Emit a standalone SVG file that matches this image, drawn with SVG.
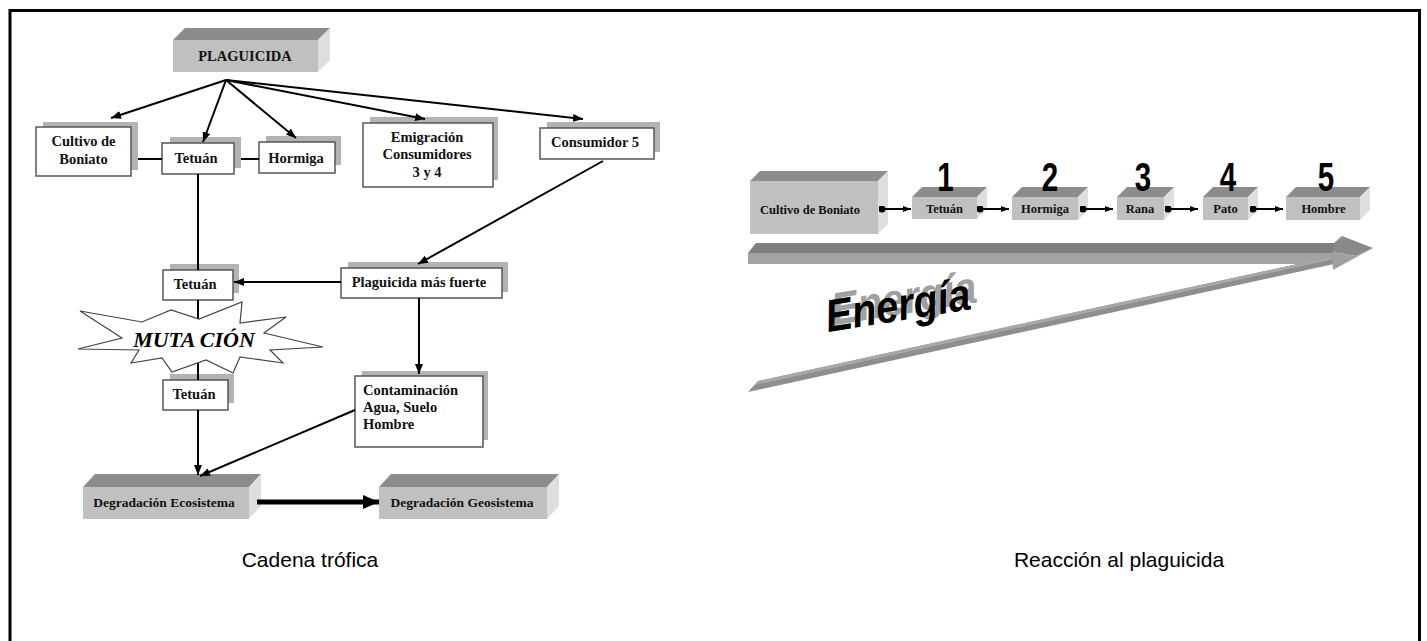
<svg xmlns="http://www.w3.org/2000/svg" width="1427" height="641" viewBox="0 0 1427 641">
<defs>
<style>
.frame{fill:none;stroke:#000;stroke-width:3}
.shadow{fill:#b3b3b3}
.box{fill:#fff;stroke:#555;stroke-width:1.5}
.front{fill:#c0c0c0}
.top{fill:#8c8c8c}
.side{fill:#dedede}
.lbl{font-family:"Liberation Serif","Times New Roman",serif;font-weight:bold;font-size:14.5px;fill:#111}
.lbl3{font-family:"Liberation Serif","Times New Roman",serif;font-weight:bold;font-size:13.5px;fill:#111}
.lblr{font-family:"Liberation Serif","Times New Roman",serif;font-weight:bold;font-size:12.5px;fill:#111}
.num{font-family:"Liberation Sans",Arial,sans-serif;font-weight:bold;font-size:41px;fill:#000}
.cap{font-family:"Liberation Sans",Arial,sans-serif;font-size:21px;fill:#000}
.conn{stroke:#000;stroke-width:2;fill:none}
.en{font-family:"Liberation Sans",Arial,sans-serif;font-weight:bold;font-style:italic;font-size:42px}
</style>
<marker id="arr" viewBox="0 0 10 8" refX="10" refY="4" markerWidth="10" markerHeight="8" markerUnits="userSpaceOnUse" orient="auto"><path d="M0,0 L10,4 L0,8 z" fill="#000"/></marker>
<marker id="arrs" viewBox="0 0 8 6" refX="8" refY="3" markerWidth="8" markerHeight="6" markerUnits="userSpaceOnUse" orient="auto"><path d="M0,0 L8,3 L0,6 z" fill="#000"/></marker>
<marker id="dot" viewBox="0 0 8 8" refX="4" refY="4" markerWidth="7" markerHeight="7" markerUnits="userSpaceOnUse"><circle cx="4" cy="4" r="4" fill="#000"/></marker>
<marker id="arrb" viewBox="0 0 14 14" refX="14" refY="7" markerWidth="16" markerHeight="14" markerUnits="userSpaceOnUse" orient="auto" preserveAspectRatio="none"><path d="M0,0 L14,7 L0,14 z" fill="#000"/></marker>
</defs>

<rect class="frame" x="10" y="10.5" width="1409.5" height="660"/>

<!-- Left panel nodes -->
<g id="plaguicida">
<rect class="front" x="173" y="40" width="145" height="32"/>
<polygon class="top" points="173,40 185,28 330,28 318,40"/>
<polygon class="side" points="318,40 330,28 330,60 318,72"/>
<text class="lbl" x="245" y="61" text-anchor="middle">PLAGUICIDA</text>
</g>
<g id="cultivo">
<rect class="shadow" x="43" y="122" width="95" height="48"/>
<rect class="box" x="36" y="127" width="95" height="49"/>
<text class="lbl" x="83.5" y="146" text-anchor="middle">Cultivo de</text>
<text class="lbl" x="83.5" y="164" text-anchor="middle">Boniato</text>
</g>
<g id="tetuan1">
<rect class="shadow" x="170" y="137" width="71" height="31"/>
<rect class="box" x="162" y="143" width="72" height="31"/>
<text class="lbl" x="196" y="163" text-anchor="middle">Tetuán</text>
</g>
<g id="hormiga">
<rect class="shadow" x="266" y="136" width="75" height="29"/>
<rect class="box" x="259" y="142" width="76" height="31"/>
<text class="lbl" x="296" y="163" text-anchor="middle">Hormiga</text>
</g>
<g id="emigracion">
<rect class="shadow" x="370" y="117" width="128" height="63"/>
<rect class="box" x="363" y="123" width="130" height="64"/>
<text class="lbl" x="427" y="142" text-anchor="middle">Emigración</text>
<text class="lbl" x="427" y="159" text-anchor="middle">Consumidores</text>
<text class="lbl" x="427" y="177" text-anchor="middle">3 y 4</text>
</g>
<g id="consumidor5">
<rect class="shadow" x="547" y="122" width="113" height="30"/>
<rect class="box" x="540" y="128" width="114" height="31"/>
<text class="lbl" x="595" y="147" text-anchor="middle">Consumidor 5</text>
</g>
<g id="plagfuerte">
<rect class="shadow" x="348" y="262" width="160" height="30"/>
<rect class="box" x="341" y="268" width="161" height="30"/>
<text class="lbl" x="419" y="287" text-anchor="middle">Plaguicida más fuerte</text>
</g>
<g id="tetuan2">
<rect class="shadow" x="170" y="264" width="69" height="29"/>
<rect class="box" x="163" y="270" width="70" height="30"/>
<text class="lbl" x="195" y="289" text-anchor="middle">Tetuán</text>
</g>
<g id="tetuan3">
<rect class="shadow" x="170" y="374" width="64" height="29"/>
<rect class="box" x="163" y="380" width="65" height="30"/>
<text class="lbl" x="194" y="399" text-anchor="middle">Tetuán</text>
</g>
<g id="contaminacion">
<rect class="shadow" x="362" y="371" width="126" height="69"/>
<rect class="box" x="355" y="376" width="128" height="71"/>
<text class="lbl" x="363" y="395">Contaminación</text>
<text class="lbl" x="363" y="412">Agua, Suelo</text>
<text class="lbl" x="363" y="429">Hombre</text>
</g>
<g id="degeco">
<rect class="front" x="83" y="487" width="166" height="32"/>
<polygon class="top" points="83,487 95,474 261,474 249,487"/>
<polygon class="side" points="249,487 261,474 261,506 249,519"/>
<text class="lbl3" x="164" y="507" text-anchor="middle">Degradación Ecosistema</text>
</g>
<g id="deggeo">
<rect class="front" x="379" y="487" width="168" height="32"/>
<polygon class="top" points="379,487 391,474 559,474 547,487"/>
<polygon class="side" points="547,487 559,474 559,506 547,519"/>
<text class="lbl3" x="462" y="507" text-anchor="middle">Degradación Geosistema</text>
</g>

<!-- Left panel connectors -->
<g id="connectors-left">
<line class="conn" x1="226" y1="80" x2="111" y2="118" marker-end="url(#arr)"/>
<line class="conn" x1="226" y1="80" x2="203" y2="142" marker-end="url(#arr)"/>
<line class="conn" x1="226" y1="80" x2="296" y2="138" marker-end="url(#arr)"/>
<line class="conn" x1="226" y1="80" x2="425" y2="119" marker-end="url(#arr)"/>
<line class="conn" x1="226" y1="80" x2="583" y2="119" marker-end="url(#arr)"/>
<line class="conn" x1="138" y1="159" x2="162" y2="159"/>
<line class="conn" x1="241" y1="159" x2="259" y2="159"/>
<line class="conn" x1="198" y1="174" x2="198" y2="270"/>
<line class="conn" x1="341" y1="282" x2="234" y2="282" marker-end="url(#arr)"/>
<line class="conn" x1="603" y1="161" x2="418" y2="264" marker-end="url(#arr)"/>
<line class="conn" x1="419" y1="298" x2="419" y2="374" marker-end="url(#arr)"/>
<line class="conn" x1="198" y1="300" x2="198" y2="380"/>
<line class="conn" x1="198" y1="410" x2="198" y2="475" marker-end="url(#arr)"/>
<line class="conn" x1="355" y1="410" x2="200" y2="476" marker-end="url(#arr)"/>
<line stroke="#000" stroke-width="5" x1="257" y1="502" x2="379" y2="502" marker-end="url(#arrb)"/>
</g>

<g id="mutacion">
<polygon fill="#fff" stroke="#444" stroke-width="1.2" points="78,349 122,338 80,311 142,322 171,310 199,319 242,302 240,323 286,317 264,333 323,347 270,350 283,363 240,357 233,373 206,360 172,372 162,358 131,363 139,350"/>
<text x="194" y="347" text-anchor="middle" font-family="Liberation Serif,'Times New Roman',serif" font-weight="bold" font-style="italic" font-size="22" fill="#000">MUTA CIÓN</text>
</g>

<!-- Right panel -->
<g id="energia-arrow">
<polygon fill="#7f7f7f" points="756,243 1340,243 1334,253 748,253"/>
<polygon fill="#a3a3a3" points="748,253 1334,253 1334,264 748,264"/>
<polygon fill="#8e8e8e" points="758,381 1334,256 1334,264 748,392"/>
<polygon fill="#a8a8a8" points="758,381 1334,256 1334,259 755,385"/>
<polygon fill="#8a8a8a" points="1342,236 1373,248 1356,256 1332,252 1334,243"/>
<polygon fill="#a0a0a0" points="1332,252 1356,256 1373,248 1333,270"/>
</g>
<g id="energia-label">
<text class="en" transform="translate(834,325) rotate(-9) scale(0.95,1.08)" fill="#a0a0a0">Energía</text>
<text class="en" transform="translate(828,332) rotate(-9) scale(0.95,1.08)" fill="#000">Energía</text>
</g>

<g id="r-cultivo">
<rect class="front" x="750" y="181" width="128" height="53"/>
<polygon class="top" points="750,181 760,171 888,171 878,181"/>
<polygon class="side" points="878,181 888,171 888,224 878,234"/>
<text class="lblr" x="810" y="214" text-anchor="middle">Cultivo de Boniato</text>
</g>
<g id="r-tetuan">
<rect class="front" x="912" y="197" width="65" height="22"/>
<polygon class="top" points="912,197 922,187 987,187 977,197"/>
<polygon class="side" points="977,197 987,187 987,209 977,219"/>
<text class="lblr" x="944.5" y="213" text-anchor="middle">Tetuán</text>
<text class="num" transform="translate(945.5,191) scale(0.72,1)" text-anchor="middle">1</text>
</g>
<g id="r-hormiga">
<rect class="front" x="1012" y="197" width="66" height="23"/>
<polygon class="top" points="1012,197 1022,187 1088,187 1078,197"/>
<polygon class="side" points="1078,197 1088,187 1088,210 1078,220"/>
<text class="lblr" x="1045" y="213" text-anchor="middle">Hormiga</text>
<text class="num" transform="translate(1050,191) scale(0.72,1)" text-anchor="middle">2</text>
</g>
<g id="r-rana">
<rect class="front" x="1117" y="197" width="47" height="23"/>
<polygon class="top" points="1117,197 1127,187 1174,187 1164,197"/>
<polygon class="side" points="1164,197 1174,187 1174,210 1164,220"/>
<text class="lblr" x="1140" y="213" text-anchor="middle">Rana</text>
<text class="num" transform="translate(1143,191) scale(0.72,1)" text-anchor="middle">3</text>
</g>
<g id="r-pato">
<rect class="front" x="1203" y="197" width="45" height="23"/>
<polygon class="top" points="1203,197 1213,187 1258,187 1248,197"/>
<polygon class="side" points="1248,197 1258,187 1258,210 1248,220"/>
<text class="lblr" x="1225.5" y="213" text-anchor="middle">Pato</text>
<text class="num" transform="translate(1228,191) scale(0.72,1)" text-anchor="middle">4</text>
</g>
<g id="r-hombre">
<rect class="front" x="1286" y="197" width="74" height="23"/>
<polygon class="top" points="1286,197 1296,187 1370,187 1360,197"/>
<polygon class="side" points="1360,197 1370,187 1370,210 1360,220"/>
<text class="lblr" x="1323.5" y="213" text-anchor="middle">Hombre</text>
<text class="num" transform="translate(1326,191) scale(0.72,1)" text-anchor="middle">5</text>
</g>

<g id="connectors-right">
<line class="conn" x1="882" y1="209" x2="911" y2="209" marker-start="url(#dot)" marker-end="url(#arrs)"/>
<line class="conn" x1="980" y1="209" x2="1009" y2="209" marker-start="url(#dot)" marker-end="url(#arrs)"/>
<line class="conn" x1="1083" y1="209" x2="1113" y2="209" marker-start="url(#dot)" marker-end="url(#arrs)"/>
<line class="conn" x1="1168" y1="209" x2="1198" y2="209" marker-start="url(#dot)" marker-end="url(#arrs)"/>
<line class="conn" x1="1253" y1="209" x2="1283" y2="209" marker-start="url(#dot)" marker-end="url(#arrs)"/>
</g>

<text class="cap" x="310" y="567" text-anchor="middle">Cadena trófica</text>
<text class="cap" x="1119" y="567" text-anchor="middle">Reacción al plaguicida</text>
</svg>
